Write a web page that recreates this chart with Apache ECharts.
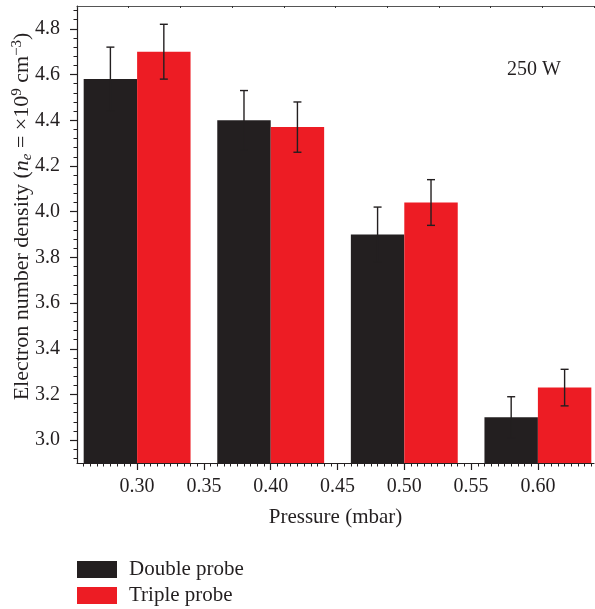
<!DOCTYPE html>
<html>
<head>
<meta charset="utf-8">
<script src="https://cdn.jsdelivr.net/npm/echarts@6/dist/echarts.min.js"></script>
<style>html,body{margin:0;padding:0;background:#fff}#c{width:595px;height:609px}</style>
</head>
<body>
<div id="c"></div>
<script>
// Data
const pressures = [0.30, 0.40, 0.50, 0.60];
const doubleProbe = [4.58, 4.40, 3.90, 3.10];
const doubleErr = [0.14, 0.13, 0.12, 0.09];
const tripleProbe = [4.70, 4.37, 4.04, 3.23];
const tripleErr = [0.12, 0.11, 0.10, 0.08];
const xTickLabels = [0.30, 0.35, 0.40, 0.45, 0.50, 0.55, 0.60];
const yTickLabels = [3.0, 3.2, 3.4, 3.6, 3.8, 4.0, 4.2, 4.4, 4.6, 4.8];

const X_MIN = 0.255, X_MAX = 0.642, Y_MIN = 2.9, Y_MAX = 4.9;
const HALF = 0.02; // half bar width in axis units
const FONT = '"Liberation Serif", "DejaVu Serif", serif';
const INK = '#231f20';
const RED = '#ed1c24';

const xMinor = [];
for (let k = 52; k <= 128; k++) xMinor.push(+(k * 0.005).toFixed(3));
const yMinor = [];
for (let k = 73; k <= 122; k++) yMinor.push(+(k * 0.04).toFixed(2));

const dData = pressures.map((p, i) => [+(p - HALF).toFixed(3), doubleProbe[i], doubleErr[i]]);
const tData = pressures.map((p, i) => [+(p + HALF).toFixed(3), tripleProbe[i], tripleErr[i]]);

function barItem(params, api) {
  const x = api.value(0), v = api.value(1);
  const p1 = api.coord([x - HALF, v]);
  const p2 = api.coord([x + HALF, Y_MIN]);
  return {
    type: 'rect',
    shape: { x: p1[0], y: p1[1], width: p2[0] - p1[0], height: p2[1] - p1[1] },
    style: { fill: api.visual('color') }
  };
}
function errItem(params, api) {
  const x = api.value(0), v = api.value(1), e = api.value(2);
  const top = api.coord([x, v + e]);
  const bot = api.coord([x, v - e]);
  const cw = 4;
  const st = { stroke: INK, lineWidth: 1.4 };
  return {
    type: 'group',
    children: [
      { type: 'line', shape: { x1: top[0], y1: top[1], x2: bot[0], y2: bot[1] }, style: st },
      { type: 'line', shape: { x1: top[0] - cw, y1: top[1], x2: top[0] + cw, y2: top[1] }, style: st },
      { type: 'line', shape: { x1: bot[0] - cw, y1: bot[1], x2: bot[0] + cw, y2: bot[1] }, style: st }
    ]
  };
}

const chart = echarts.init(document.getElementById('c'));
chart.setOption({
  animation: false,
  backgroundColor: '#fff',
  textStyle: { fontFamily: FONT },
  grid: { left: 77, right: 1, top: 6, bottom: 146, containLabel: false, outerBoundsMode: 'none' },
  legend: {
    orient: 'vertical', left: 77, top: 559, height: 60, padding: 0,
    itemWidth: 40, itemHeight: 17, itemGap: 5,
    icon: 'rect',
    data: ['Double probe', 'Triple probe'],
    textStyle: { fontFamily: FONT, fontSize: 21, lineHeight: 17, height: 17, color: INK, padding: [0, 0, 0, 7] }
  },
  graphic: [{
    type: 'text', left: 507, top: 60,
    style: { text: '250 W', font: '20px ' + FONT, fill: INK }
  }],
  xAxis: [{
    type: 'value', min: X_MIN, max: X_MAX, position: 'bottom',
    name: 'Pressure (mbar)', nameLocation: 'middle', nameGap: 44, nameMoveOverlap: false,
    nameTextStyle: { fontFamily: FONT, fontSize: 21, color: INK },
    axisLine: { show: true, lineStyle: { color: INK, width: 1.2 } },
    axisTick: { show: true, customValues: xTickLabels, length: 7, lineStyle: { color: INK, width: 1.2 } },
    axisLabel: { customValues: xTickLabels, formatter: v => v.toFixed(2), margin: 14, fontFamily: FONT, fontSize: 20, color: INK },
    splitLine: { show: false }
  }, {
    type: 'value', min: X_MIN, max: X_MAX, position: 'bottom',
    axisLine: { show: false },
    axisTick: { show: true, customValues: xMinor, length: 3.5, lineStyle: { color: INK, width: 1 } },
    axisLabel: { show: false }, splitLine: { show: false }
  }, {
    type: 'value', min: 0, max: 10, interval: 1, position: 'top',
    axisLine: { show: true, lineStyle: { color: '#555', width: 1.2 } },
    axisTick: { show: true, inside: true, length: 2, lineStyle: { color: '#333', width: 1 } },
    axisLabel: { show: false }, splitLine: { show: false }
  }],
  yAxis: [{
    type: 'value', min: Y_MIN, max: Y_MAX, position: 'left',
    name: 'Electron number density ({i|n}{sub|e} = ×10{sup|9} cm{sup|−3})',
    nameLocation: 'middle', nameGap: 42, nameMoveOverlap: false,
    nameTextStyle: {
      fontFamily: FONT, fontSize: 22, color: INK, padding: [0, 0, 0, 36],
      rich: {
        i: { fontFamily: FONT, fontSize: 22, fontStyle: 'italic', color: INK },
        sub: { fontFamily: FONT, fontSize: 15, fontStyle: 'italic', color: INK, verticalAlign: 'bottom', padding: [9, 0, 0, 0] },
        sup: { fontFamily: FONT, fontSize: 15, color: INK, verticalAlign: 'top', padding: [0, 0, 10, 0] }
      }
    },
    axisLine: { show: true, lineStyle: { color: INK, width: 1.2 } },
    axisTick: { show: true, customValues: yTickLabels, length: 7, lineStyle: { color: INK, width: 1.2 } },
    axisLabel: { customValues: yTickLabels, formatter: v => v.toFixed(1), margin: 17, fontFamily: FONT, fontSize: 20, color: INK },
    splitLine: { show: false }
  }, {
    type: 'value', min: Y_MIN, max: Y_MAX, position: 'left',
    axisLine: { show: false },
    axisTick: { show: true, customValues: yMinor, length: 3.5, lineStyle: { color: INK, width: 1 } },
    axisLabel: { show: false }, splitLine: { show: false }
  }],
  series: [
    { name: 'Double probe', type: 'custom', renderItem: barItem, data: dData, itemStyle: { color: INK }, encode: { x: 0, y: 1 }, z: 2 },
    { name: 'Triple probe', type: 'custom', renderItem: barItem, data: tData, itemStyle: { color: RED }, encode: { x: 0, y: 1 }, z: 2 },
    { name: 'errD', type: 'custom', renderItem: errItem, data: dData, encode: { x: 0, y: 1 }, z: 3 },
    { name: 'errT', type: 'custom', renderItem: errItem, data: tData, encode: { x: 0, y: 1 }, z: 3 }
  ]
});
</script>
</body>
</html>
